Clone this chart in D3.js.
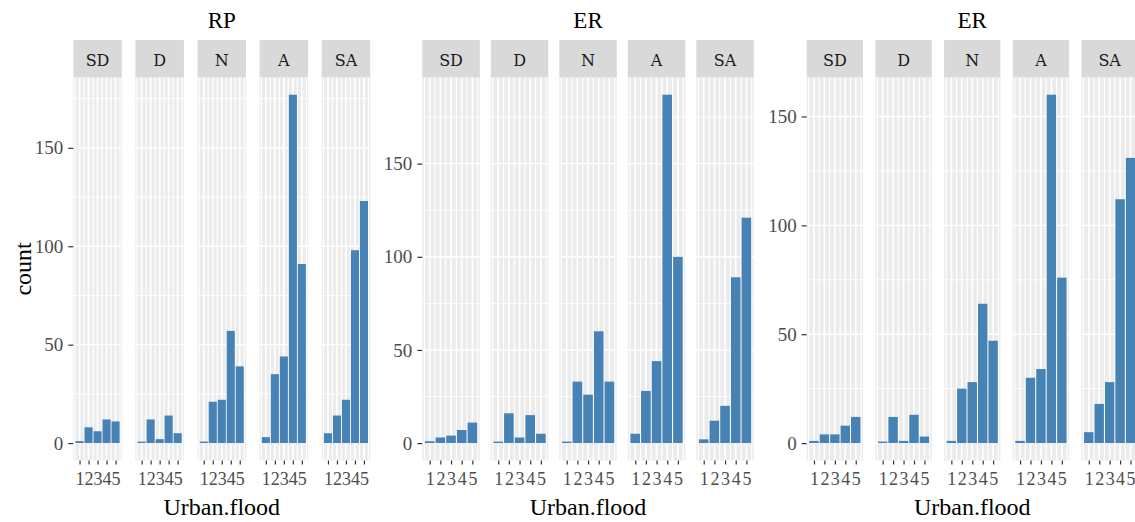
<!DOCTYPE html>
<html>
<head>
<meta charset="utf-8">
<script src="https://cdn.jsdelivr.net/npm/d3@7"></script>
<style>
  body { margin: 0; background: #fff; }
  svg { display: block; }
</style>
</head>
<body>
<script>
// Agreement levels (one facet each) and the Urban.flood scores on the x axis
const levels = ["SD", "D", "N", "A", "SA"];
const urbanFlood = [1, 2, 3, 4, 5];
const panelTitles = ["RP", "ER", "ER"];
const xAxisTitle = "Urban.flood";
const yAxisTitle = "count";

// Counts: one row per agreement level, one column per Urban.flood score
const countsRP = [
  [1, 8, 6, 12, 11],
  [0, 12, 2, 14, 5],
  [0, 21, 22, 57, 39],
  [3, 35, 44, 177, 91],
  [5, 14, 22, 98, 123]
];
const countsER1 = [
  [1, 3, 4, 7, 11],
  [0, 16, 3, 15, 5],
  [0, 33, 26, 60, 33],
  [5, 28, 44, 187, 100],
  [2, 12, 20, 89, 121]
];
const countsER2 = [
  [1, 4, 4, 8, 12],
  [0, 12, 1, 13, 3],
  [1, 25, 28, 64, 47],
  [1, 30, 34, 160, 76],
  [5, 18, 28, 112, 131]
];
const yTicks = [0, 50, 100, 150];

const W = 1135, H = 522;
const stripTop = 40, panelTop = 77.3, panelBottom = 460.5;
const barWidth = 0.9;

const layouts = [
  { left: 73.3, facetW: 48.5, gap: 13.6, counts: countsRP, showYTitle: true },
  { left: 422.3, facetW: 57.5, gap: 11.0, counts: countsER1, showYTitle: false },
  { left: 806.7, facetW: 56.3, gap: 12.4, counts: countsER2, showYTitle: false }
];

const svg = d3.select("body").append("svg").attr("width", W).attr("height", H);

const serif = "Liberation Serif";

layouts.forEach((p, pi) => {
  const g = svg.append("g");
  const maxCount = d3.max(p.counts.flat());
  // y scale with 5% expansion on both sides
  const y = d3.scaleLinear()
    .domain([-0.05 * maxCount, 1.05 * maxCount])
    .range([panelBottom, panelTop]);

  const xLo = urbanFlood[0] - barWidth / 2, xHi = urbanFlood[urbanFlood.length - 1] + barWidth / 2;
  const xPad = (xHi - xLo) * 0.05;

  const right = p.left + levels.length * p.facetW + (levels.length - 1) * p.gap;
  const centerX = (p.left + right) / 2;

  // panel title
  g.append("text")
    .attr("x", centerX).attr("y", 28)
    .attr("text-anchor", "middle")
    .attr("font-family", serif).attr("font-size", 23).attr("fill", "#000")
    .text(panelTitles[pi]);

  // x axis title
  g.append("text")
    .attr("x", centerX).attr("y", 515)
    .attr("text-anchor", "middle")
    .attr("font-family", serif).attr("font-size", 24).attr("fill", "#000")
    .text(xAxisTitle);

  if (p.showYTitle) {
    g.append("text")
      .attr("transform", `translate(31,${(panelTop + panelBottom) / 2}) rotate(-90)`)
      .attr("text-anchor", "middle")
      .attr("font-family", serif).attr("font-size", 24).attr("fill", "#000")
      .text(yAxisTitle);
  }

  const [d0, d1] = y.domain();
  const yMinor = d3.range(25, d1, 50).filter(v => v > d0);
  const yMajor = yTicks.filter(v => v >= d0 && v <= d1);

  levels.forEach((lev, li) => {
    const fl = p.left + li * (p.facetW + p.gap);
    const x = d3.scaleLinear().domain([xLo - xPad, xHi + xPad]).range([fl, fl + p.facetW]);
    const fg = g.append("g");

    // panel background
    fg.append("rect")
      .attr("x", fl).attr("y", panelTop)
      .attr("width", p.facetW).attr("height", panelBottom - panelTop)
      .attr("fill", "#EBEBEB");

    // minor grid lines
    const xMinor = d3.range(0.5, 6, 1).filter(v => v > x.domain()[0] && v < x.domain()[1]);
    fg.selectAll(".xmin").data(xMinor).join("line")
      .attr("x1", d => x(d)).attr("x2", d => x(d))
      .attr("y1", panelTop).attr("y2", panelBottom)
      .attr("stroke", "#fff").attr("stroke-width", 1.2);
    fg.selectAll(".ymin").data(yMinor).join("line")
      .attr("x1", fl).attr("x2", fl + p.facetW)
      .attr("y1", d => y(d)).attr("y2", d => y(d))
      .attr("stroke", "#fff").attr("stroke-width", 0.9);
    // major grid lines
    fg.selectAll(".xmaj").data(urbanFlood).join("line")
      .attr("x1", d => x(d)).attr("x2", d => x(d))
      .attr("y1", panelTop).attr("y2", panelBottom)
      .attr("stroke", "#fff").attr("stroke-width", 1.7);
    fg.selectAll(".ymaj").data(yMajor).join("line")
      .attr("x1", fl).attr("x2", fl + p.facetW)
      .attr("y1", d => y(d)).attr("y2", d => y(d))
      .attr("stroke", "#fff").attr("stroke-width", 1.4);

    // bars
    const vals = p.counts[li];
    fg.selectAll(".bar").data(urbanFlood).join("rect")
      .attr("x", d => x(d - barWidth / 2))
      .attr("width", d => x(d + barWidth / 2) - x(d - barWidth / 2))
      .attr("y", (d, i) => Math.min(y(vals[i]), y(0) - 1.5))
      .attr("height", (d, i) => Math.max(y(0) - y(vals[i]), 1.5))
      .attr("fill", "steelblue");

    // strip
    fg.append("rect")
      .attr("x", fl).attr("y", stripTop)
      .attr("width", p.facetW).attr("height", panelTop - stripTop)
      .attr("fill", "#D9D9D9");
    fg.append("text")
      .attr("x", fl + p.facetW / 2).attr("y", 66)
      .attr("text-anchor", "middle")
      .attr("font-family", "DejaVu Serif").attr("font-size", 16)
      .attr("fill", "#1A1A1A")
      .text(lev);

    // bottom axis
    const ax = fg.append("g")
      .attr("transform", `translate(0,${panelBottom})`)
      .call(d3.axisBottom(x).tickValues(urbanFlood).tickFormat(d3.format("d")).tickSize(4).tickPadding(8));
    ax.select(".domain").remove();
    ax.selectAll(".tick line").attr("stroke", "#333").attr("stroke-width", 1.2);
    ax.selectAll(".tick text")
      .attr("font-family", serif).attr("font-size", 18).attr("fill", "#4D4D4D");
  });

  // left axis
  const ay = g.append("g")
    .attr("transform", `translate(${p.left},0)`)
    .call(d3.axisLeft(y).tickValues(yMajor).tickSize(5).tickPadding(5));
  ay.select(".domain").remove();
  ay.selectAll(".tick line").attr("stroke", "#333").attr("stroke-width", 1.2);
  ay.selectAll(".tick text")
    .attr("font-family", serif).attr("font-size", 19).attr("fill", "#4D4D4D");
});
</script>
</body>
</html>
